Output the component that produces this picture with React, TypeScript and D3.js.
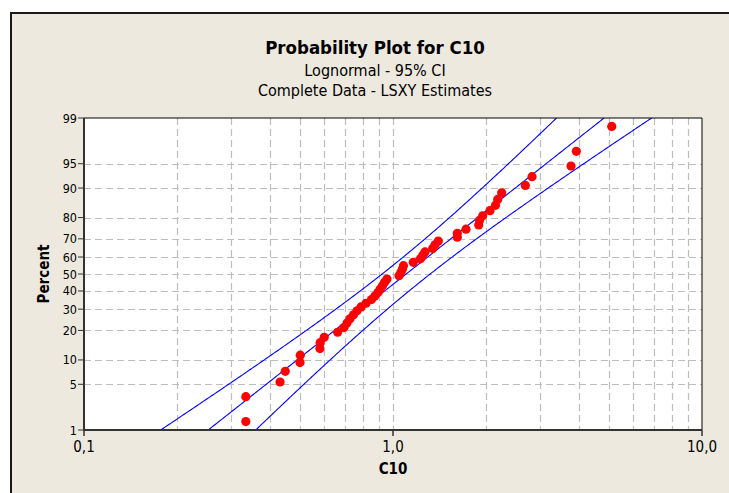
import React from "react";
import * as d3 from "d3";

// ---- data ----
const c10Values: number[] = [
  0.334, 0.334, 0.431, 0.448, 0.5, 0.501, 0.58, 0.581, 0.599, 0.662,
  0.694, 0.71, 0.726, 0.745, 0.765, 0.788, 0.818, 0.852, 0.874, 0.894,
  0.908, 0.925, 0.939, 0.956, 1.046, 1.061, 1.073, 1.081, 1.163, 1.227,
  1.248, 1.269, 1.344, 1.368, 1.402, 1.615, 1.615, 1.723, 1.894, 1.905,
  1.951, 2.06, 2.146, 2.182, 2.248, 2.681, 2.818, 3.768, 3.92, 5.104,
];
const c10Percents: number[] = [
  1.39, 3.37, 5.36, 7.34, 9.33, 11.31, 13.29, 15.28, 17.26, 19.25,
  21.23, 23.21, 25.2, 27.18, 29.17, 31.15, 33.13, 35.12, 37.1, 39.09,
  41.07, 43.06, 45.04, 47.02, 49.01, 50.99, 52.98, 54.96, 56.94, 58.93,
  60.91, 62.9, 64.88, 66.87, 68.85, 70.83, 72.82, 74.8, 76.79, 78.77,
  80.75, 82.74, 84.72, 86.71, 88.69, 90.67, 92.66, 94.64, 96.63, 98.61,
];
const yTickLabels: number[] = [99, 95, 90, 80, 70, 60, 50, 40, 30, 20, 10, 5, 1];
const yGridPercents: number[] = [95, 90, 80, 70, 60, 50, 40, 30, 20, 10, 5];
const xTickValues: number[] = [0.1, 1, 10];
const xTickLabels: string[] = ["0,1", "1,0", "10,0"];
const xGridValues: number[] = [0.2, 0.3, 0.4, 0.5, 0.6, 0.7, 0.8, 0.9, 1, 2, 3, 4, 5, 6, 7, 8, 9];
// fitted lognormal (ln scale) and its percentile standard errors
const fitLocation = 0.098;
const fitScale = 0.634;
const seLocation = 0.0913;
const seScale = 0.067;
const ciZ = 1.96;

const titleText = "Probability Plot for C10";
const subtitle1 = "Lognormal - 95% CI";
const subtitle2 = "Complete Data - LSXY Estimates";

// inverse standard normal (Acklam)
function probit(p: number): number {
  const a = [-39.69683028665376, 220.9460984245205, -275.9285104469687, 138.357751867269, -30.66479806614716, 2.506628277459239];
  const b = [-54.47609879822406, 161.5858368580409, -155.6989798598866, 66.80131188771972, -13.28068155288572];
  const c = [-0.007784894002430293, -0.3223964580411365, -2.400758277161838, -2.549732539343734, 4.374664141464968, 2.938163982698783];
  const d = [0.007784695709041462, 0.3224671290700398, 2.445134137142996, 3.754408661907416];
  const pl = 0.02425;
  let q, r;
  if (p < pl) {
    q = Math.sqrt(-2 * Math.log(p));
    return (((((c[0] * q + c[1]) * q + c[2]) * q + c[3]) * q + c[4]) * q + c[5]) / ((((d[0] * q + d[1]) * q + d[2]) * q + d[3]) * q + 1);
  }
  if (p > 1 - pl) {
    q = Math.sqrt(-2 * Math.log(1 - p));
    return -(((((c[0] * q + c[1]) * q + c[2]) * q + c[3]) * q + c[4]) * q + c[5]) / ((((d[0] * q + d[1]) * q + d[2]) * q + d[3]) * q + 1);
  }
  q = p - 0.5;
  r = q * q;
  return (((((a[0] * r + a[1]) * r + a[2]) * r + a[3]) * r + a[4]) * r + a[5]) * q / (((((b[0] * r + b[1]) * r + b[2]) * r + b[3]) * r + b[4]) * r + 1);
}

const W = 729;
const H = 493;
const L = 84, R = 702, T = 118, B = 430;
const BG = "#EDE9DE";
const FONT = "'DejaVu Sans Condensed', 'DejaVu Sans', sans-serif";

export default function App() {
  const x = d3.scaleLog().domain([0.1, 10]).range([L, R]);
  const zScale = d3.scaleLinear().domain([probit(0.01), probit(0.99)]).range([B, T]);
  const y = (pct: number) => zScale(probit(pct / 100));

  const zs = d3.range(-3.2, 3.2001, 0.02);
  const line = d3
    .line<[number, number]>()
    .x((d) => x(Math.exp(d[0])))
    .y((d) => zScale(d[1]));
  const mid = line(zs.map((z) => [fitLocation + fitScale * z, z]));
  const hw = (z: number) => ciZ * Math.sqrt(seLocation * seLocation + z * z * seScale * seScale);
  const lower = line(zs.map((z) => [fitLocation + fitScale * z - hw(z), z]));
  const upper = line(zs.map((z) => [fitLocation + fitScale * z + hw(z), z]));

  return (
    <div style={{ position: "absolute", left: 0, top: 0, width: W, height: H, background: "#fff" }}>
      <svg width={W} height={H} style={{ display: "block" }}>
        <rect x={0} y={0} width={W} height={H} fill="#fff" />
        <rect x={11} y={13} width={W + 10} height={H + 10} fill={BG} stroke="#1a1a1a" strokeWidth={2} />
        <text x={375} y={54} textAnchor="middle" fontFamily={FONT} fontSize={18.5} fontWeight="bold" fill="#000">{titleText}</text>
        <text x={375} y={75.5} textAnchor="middle" fontFamily={FONT} fontSize={16} fill="#000">{subtitle1}</text>
        <text x={375} y={96} textAnchor="middle" fontFamily={FONT} fontSize={16} fill="#000">{subtitle2}</text>

        <rect x={L} y={T} width={R - L} height={B - T} fill="#fff" />
        <defs>
          <clipPath id="plotclip">
            <rect x={L} y={T} width={R - L} height={B - T} />
          </clipPath>
        </defs>
        <g stroke="#BDBDBD" strokeWidth={1.2} strokeDasharray="7,4">
          {xGridValues.map((v) => (
            <line key={"gx" + v} x1={Math.round(x(v)) + 0.5} x2={Math.round(x(v)) + 0.5} y1={T} y2={B} />
          ))}
          {yGridPercents.map((p) => (
            <line key={"gy" + p} x1={L} x2={R} y1={Math.round(y(p)) + 0.5} y2={Math.round(y(p)) + 0.5} />
          ))}
        </g>
        <g clipPath="url(#plotclip)" fill="none" stroke="#0000FF" strokeWidth={1.1}>
          <path d={lower || ""} />
          <path d={mid || ""} />
          <path d={upper || ""} />
        </g>
        <g fill="#FF0000">
          {c10Values.map((v, i) => (
            <circle key={i} cx={x(v)} cy={y(c10Percents[i])} r={4.6} />
          ))}
        </g>
        {/* frame */}
        <line x1={L} x2={R} y1={T} y2={T} stroke="#000" strokeWidth={1} />
        <line x1={R} x2={R} y1={T} y2={B} stroke="#000" strokeWidth={1} />
        <line x1={L} x2={L} y1={T} y2={B + 1} stroke="#333" strokeWidth={2} />
        <line x1={L - 1} x2={R} y1={B} y2={B} stroke="#333" strokeWidth={2} />
        {/* y ticks */}
        {yTickLabels.map((p) => (
          <g key={"yt" + p}>
            <line x1={L - 6} x2={L} y1={y(p)} y2={y(p)} stroke="#333" strokeWidth={1} />
            <text x={L - 7} y={y(p)} dy="0.36em" textAnchor="end" fontFamily={FONT} fontSize={12.5} fill="#000">{p}</text>
          </g>
        ))}
        {/* x ticks */}
        {xTickValues.map((v, i) => (
          <g key={"xt" + v}>
            <line x1={x(v)} x2={x(v)} y1={B} y2={B + 6} stroke="#333" strokeWidth={1.5} />
            <text x={x(v)} y={452} textAnchor="middle" fontFamily={FONT} fontSize={15} fill="#000">{xTickLabels[i]}</text>
          </g>
        ))}
        <text x={393} y={474} textAnchor="middle" fontFamily={FONT} fontSize={15} fontWeight="bold" fill="#000">C10</text>
        <text transform="translate(48.5,274) rotate(-90)" textAnchor="middle" fontFamily={FONT} fontSize={15} fontWeight="bold" fill="#000">Percent</text>
      </svg>
    </div>
  );
}
